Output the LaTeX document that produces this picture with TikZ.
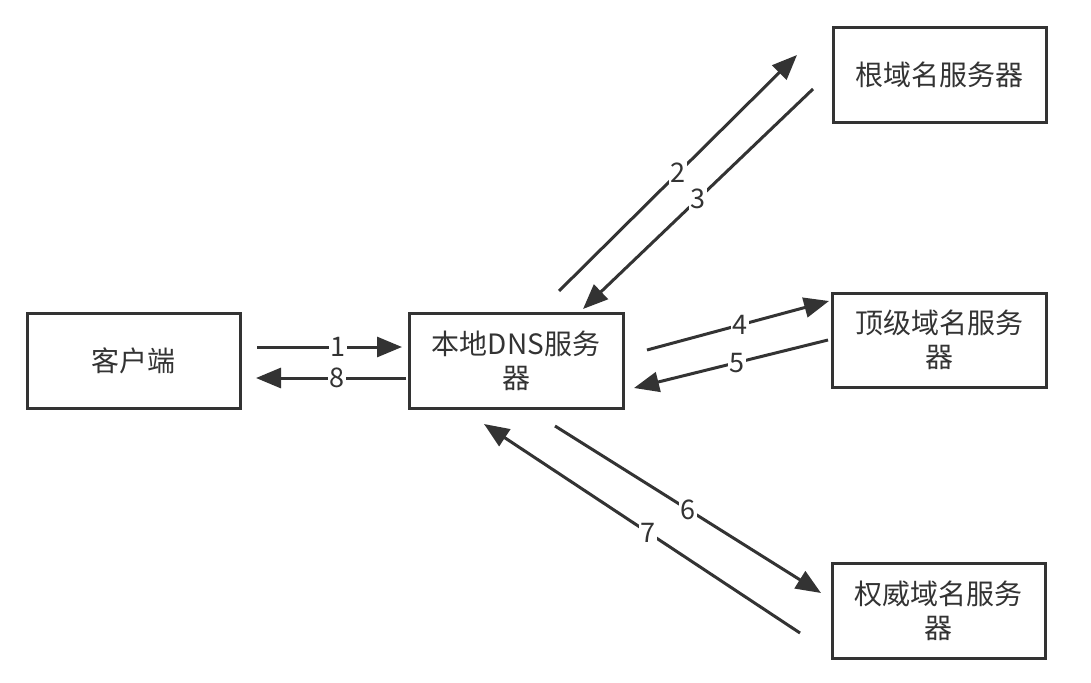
\documentclass[tikz,border=0pt]{standalone}
\usepackage{fontspec}
\setmainfont{Noto Sans CJK SC}
\usetikzlibrary{arrows.meta}
\definecolor{ink}{HTML}{333333}
\begin{document}
\begin{tikzpicture}[x=1pt,y=-1pt,
  srv/.style={draw=ink, line width=3pt, minimum width=213pt, minimum height=95pt,
    align=center, text=ink, font=\fontsize{28pt}{34pt}\selectfont, inner sep=0pt},
  flow/.style={draw=ink, line width=3pt, -{Triangle[length=25pt,width=20pt]}},
  lbl/.style={fill=white, text=ink, inner sep=1.5pt, font=\fontsize{27pt}{30pt}\selectfont}]
\useasboundingbox (0,0) rectangle (1091,682);

\node[srv] (client) at (133.5,360.5) {客户端};
\node[srv, minimum width=214pt] (local) at (516,360.5) {本地DNS服务\\器};
\node[srv] (root) at (939.5,75) {根域名服务器};
\node[srv, minimum width=214pt, minimum height=94pt] (tld) at (939,340) {顶级域名服务\\器};
\node[srv] (auth) at (938.5,610.5) {权威域名服务\\器};

\coordinate (a1s) at (257,347);  \coordinate (a1e) at (402,347);
\coordinate (a8s) at (406,378);  \coordinate (a8e) at (256,378);
\coordinate (a2s) at (559,291);  \coordinate (a2e) at (797,55);
\coordinate (a3s) at (813,89);   \coordinate (a3e) at (583,309);
\coordinate (a4s) at (647,350);  \coordinate (a4e) at (829,301);
\coordinate (a5s) at (828,340);  \coordinate (a5e) at (634,388);
\coordinate (a6s) at (555,426);  \coordinate (a6e) at (821,593);
\coordinate (a7s) at (800,633);  \coordinate (a7e) at (484,424);

\draw[flow] (a1s) -- node[lbl, pos=0.56] {1} (a1e);
\draw[flow] (a8s) -- node[lbl, pos=0.46] {8} (a8e);
\draw[flow] (a2s) -- node[lbl, pos=0.5] {2} (a2e);
\draw[flow] (a3s) -- node[lbl, pos=0.5] {3} (a3e);
\draw[flow] (a4s) -- node[lbl, pos=0.51] {4} (a4e);
\draw[flow] (a5s) -- node[lbl, pos=0.47] {5} (a5e);
\draw[flow] (a6s) -- node[lbl, pos=0.5] {6} (a6e);
\draw[flow] (a7s) -- node[lbl, pos=0.48] {7} (a7e);
\end{tikzpicture}
\end{document}
